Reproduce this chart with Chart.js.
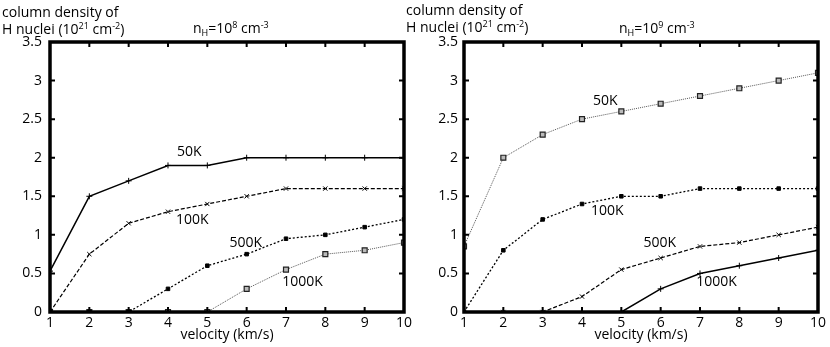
<!DOCTYPE html>
<html><head><meta charset="utf-8">
<script src="https://cdn.jsdelivr.net/npm/chart.js@4/dist/chart.umd.min.js"></script>
<style>
body{margin:0;background:#fff;width:830px;height:347px;overflow:hidden;position:relative;font-family:"Open Sans",sans-serif;}
.panel{position:absolute;top:0;width:415px;height:347px;}
.txt{position:absolute;font-size:14px;line-height:17px;white-space:nowrap;color:#000;}
sup{font-size:9px;line-height:0;vertical-align:5px;}
sub{font-size:9px;line-height:0;vertical-align:-3px;}
</style></head><body>
<div class="panel" style="left:0"><canvas id="c1" width="415" height="347"></canvas></div>
<div class="panel" style="left:414px"><canvas id="c2" width="415" height="347"></canvas></div>
<div class="txt" style="left:2px;top:3px">column density of<br>H nuclei (10<sup>21</sup> cm<sup>-2</sup>)</div>
<div class="txt" style="left:193px;top:19px">n<sub>H</sub>=10<sup>8</sup> cm<sup>-3</sup></div>
<div class="txt" style="left:406px;top:1px">column density of<br>H nuclei (10<sup>21</sup> cm<sup>-2</sup>)</div>
<div class="txt" style="left:619px;top:19px">n<sub>H</sub>=10<sup>9</sup> cm<sup>-3</sup></div>
<script>
// ---- data ----
const velocity = [1,2,3,4,5,6,7,8,9,10];
const seriesNames = ['50K','100K','500K','1000K'];
const left50K   = [0.53,1.5,1.7,1.9,1.9,2,2,2,2,2];
const left100K  = [0,0.75,1.15,1.3,1.4,1.5,1.6,1.6,1.6,1.6];
const left500K  = [0,0,0,0.3,0.6,0.75,0.95,1.0,1.1,1.2];
const left1000K = [0,0,0,0,0,0.3,0.55,0.75,0.8,0.9];
const right50K   = [0.85,2.0,2.3,2.5,2.6,2.7,2.8,2.9,3.0,3.1];
const right100K  = [0,0.8,1.2,1.4,1.5,1.5,1.6,1.6,1.6,1.6];
const right500K  = [0,0,0,0.2,0.55,0.7,0.85,0.9,1.0,1.1];
const right1000K = [0,0,0,0,0,0.3,0.5,0.6,0.7,0.8];
const yTickLabels = ['0','0.5','1','1.5','2','2.5','3','3.5'];
const yMin = 0, yMax = 3.5, yStep = 0.5;
const xMin = 1, xMax = 10, xStep = 1;

// label anchor positions (data coords)
const leftLabelPos  = [[4.54,2.08],[4.62,1.19],[5.98,0.90],[7.42,0.39]];
const rightLabelPos = [[4.59,2.74],[4.64,1.31],[5.98,0.90],[7.42,0.39]];

const FONT = {family:'"Open Sans", sans-serif', size:14};

const pts = arr => arr.map((v,i)=>({x:velocity[i], y:v}));

const styles = {
  solidCross: {borderColor:'#000', borderWidth:1.5, borderDash:[], pointStyle:'cross', pointRadius:3, pointBorderWidth:1, pointBorderColor:'#000', pointBackgroundColor:'#000'},
  dashX: {borderColor:'#000', borderWidth:1.2, borderDash:[4,2], pointStyle:'crossRot', pointRadius:3, pointBorderWidth:1, pointBorderColor:'#000', pointBackgroundColor:'#000'},
  dotRect: {borderColor:'#000', borderWidth:1.3, borderDash:[2,2], pointStyle:'rect', pointRadius:2.5, pointBorderWidth:1, pointBorderColor:'#000', pointBackgroundColor:'#000'},
  fineOpen: {borderColor:'#555', borderWidth:1, borderDash:[1,1], pointStyle:'rect', pointRadius:3.5, pointBorderWidth:1.2, pointBorderColor:'#222', pointBackgroundColor:'#bbb'}
};

const framePlugin = {
  id:'frame',
  afterDatasetsDraw(chart){
    const {ctx, chartArea:{left,right,top,bottom}, scales:{x,y}} = chart;
    ctx.save();
    ctx.strokeStyle='#000';
    ctx.lineWidth=2;
    const tl=5;
    x.ticks.forEach(t=>{
      const px=x.getPixelForValue(t.value);
      ctx.beginPath(); ctx.moveTo(px,bottom); ctx.lineTo(px,bottom-tl);
      ctx.moveTo(px,top); ctx.lineTo(px,top+tl); ctx.stroke();
    });
    y.ticks.forEach(t=>{
      const py=y.getPixelForValue(t.value);
      ctx.beginPath(); ctx.moveTo(left,py); ctx.lineTo(left+tl,py);
      ctx.moveTo(right,py); ctx.lineTo(right-tl,py); ctx.stroke();
    });
    ctx.lineWidth=3.5;
    ctx.strokeRect(left,top,right-left,bottom-top);
    // series labels
    const items = chart.options.plugins.frame.labels || [];
    ctx.fillStyle='#000';
    ctx.font = '14px "Open Sans", sans-serif';
    ctx.textAlign='center'; ctx.textBaseline='middle';
    items.forEach(it=>{
      ctx.fillText(it.text, x.getPixelForValue(it.x), y.getPixelForValue(it.y));
    });
    ctx.restore();
  }
};

function makeChart(id, series, styleKeys, labelPos, yPad){
  const datasets = series.map((s,i)=>Object.assign({label:seriesNames[i], data:pts(s), fill:false, tension:0}, styles[styleKeys[i]]));
  return new Chart(document.getElementById(id), {
    type:'line',
    data:{datasets},
    options:{
      responsive:false, animation:false, devicePixelRatio:1,
      layout:{padding:{left:0,right:9,top:42,bottom:0}},
      plugins:{legend:{display:false}, tooltip:{enabled:false},
        frame:{labels:labelPos.map((p,i)=>({text:seriesNames[i], x:p[0], y:p[1]}))}},
      scales:{
        x:{type:'linear', min:xMin, max:xMax,
           grid:{display:false, drawTicks:false}, border:{display:false},
           ticks:{stepSize:xStep, color:'#000', font:FONT, padding:3, maxRotation:0},
           title:{display:true, text:'velocity (km/s)', color:'#000', font:FONT, padding:{top:0,bottom:4}},
           afterFit(s){ s.height = 35; }},
        y:{type:'linear', min:yMin, max:yMax,
           grid:{display:false, drawTicks:false}, border:{display:false},
           ticks:{stepSize:yStep, color:'#000', font:FONT, padding:yPad,
                  callback:(v,i)=>yTickLabels[i]},
           afterFit(s){ s.width = 50; }}
      }
    },
    plugins:[framePlugin]
  });
}

makeChart('c1', [left50K,left100K,left500K,left1000K], ['solidCross','dashX','dotRect','fineOpen'], leftLabelPos, 8);
makeChart('c2', [right50K,right100K,right500K,right1000K], ['fineOpen','dotRect','dashX','solidCross'], rightLabelPos, 6);
</script>
</body></html>
